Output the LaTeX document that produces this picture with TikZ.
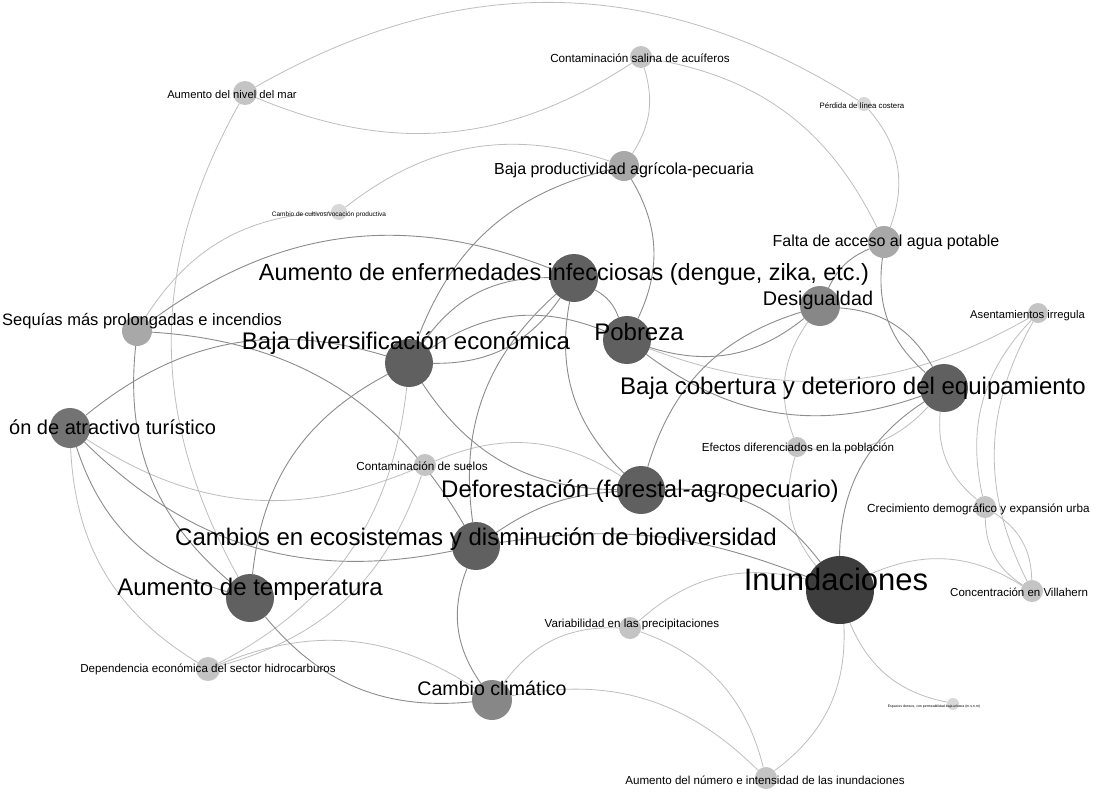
\documentclass[tikz,border=0pt]{standalone}
\usepackage{fontspec}
\setmainfont{Liberation Sans}
\usetikzlibrary{backgrounds}
\definecolor{NetHub}{HTML}{3E3E3E}
\definecolor{NetMajor}{HTML}{606060}
\definecolor{NetMid}{HTML}{737373}
\definecolor{NetSoft}{HTML}{878787}
\definecolor{NetLight}{HTML}{A8A8A8}
\definecolor{NetPale}{HTML}{C4C4C4}
\definecolor{NetFaint}{HTML}{D8D8D8}
\definecolor{NetLink}{HTML}{8C8C8C}
\definecolor{NetLinkLight}{HTML}{BEBEBE}

\begin{document}
\begin{tikzpicture}[x=1pt,y=-1pt,
    vert/.style={circle,inner sep=0pt,minimum size=#1},
    tag/.style={font=\fontsize{#1}{#1}\selectfont,inner sep=0pt,anchor=mid,yshift=-0.25*#1pt},
    link/.style={line width=0.9pt,NetLink},
    faint link/.style={line width=0.8pt,NetLinkLight}
  ]
  \useasboundingbox (0,0) rectangle (1095,796);
  \clip (0,0) rectangle (1095,796);

  % circles
  \node[vert=68,fill=NetHub] (inund) at (840,590) {};
  \node[vert=48,fill=NetMajor] (cobert) at (944,388) {};
  \node[vert=48,fill=NetMajor] (pobreza) at (627,340) {};
  \node[vert=48,fill=NetMajor] (enferm) at (574,278) {};
  \node[vert=48,fill=NetMajor] (diversif) at (409,363) {};
  \node[vert=48,fill=NetMajor] (defor) at (641,490) {};
  \node[vert=48,fill=NetMajor] (ecosis) at (476,546) {};
  \node[vert=48,fill=NetMajor] (temp) at (250,598) {};
  \node[vert=40,fill=NetMid] (turism) at (70,428) {};
  \node[vert=40,fill=NetSoft] (desig) at (820,306) {};
  \node[vert=40,fill=NetSoft] (climat) at (492,700) {};
  \node[vert=30,fill=NetLight] (sequia) at (137,331) {};
  \node[vert=32,fill=NetLight] (agua) at (884,242) {};
  \node[vert=30,fill=NetLight] (produc) at (624,166) {};
  \node[vert=22,fill=NetPale] (salina) at (641,57) {};
  \node[vert=24,fill=NetPale] (nivelmar) at (245,93) {};
  \node[vert=20,fill=NetPale] (asent) at (1038,313) {};
  \node[vert=20,fill=NetPale] (efectos) at (797,447) {};
  \node[vert=22,fill=NetPale] (crecim) at (985,507) {};
  \node[vert=22,fill=NetPale] (villa) at (1032,591) {};
  \node[vert=22,fill=NetPale] (suelos) at (425,465) {};
  \node[vert=24,fill=NetPale] (hidroc) at (208,669) {};
  \node[vert=22,fill=NetPale] (precip) at (630,628) {};
  \node[vert=22,fill=NetPale] (numinund) at (766,778) {};
  \node[vert=14,fill=NetFaint] (costera) at (864,104) {};
  \node[vert=16,fill=NetFaint] (cultivo) at (339,212) {};
  \node[vert=12,fill=NetFaint] (espacios) at (953,704) {};

  % labels
  \node[tag=31] (t-inund) at (836,580) {Inundaciones};
  \node[tag=24] (t-cobert) at (853,386) {Baja cobertura y deterioro del equipamiento};
  \node[tag=24] (t-pobreza) at (639,332) {Pobreza};
  \node[tag=23.4] (t-enferm) at (564,272) {Aumento de enfermedades infecciosas (dengue, zika, etc.)};
  \node[tag=24] (t-diversif) at (406,341) {Baja diversificación económica};
  \node[tag=24] (t-defor) at (640,489) {Deforestación (forestal-agropecuario)};
  \node[tag=24] (t-ecosis) at (476,537) {Cambios en ecosistemas y disminución de biodiversidad};
  \node[tag=24] (t-temp) at (250,587) {Aumento de temperatura};
  \node[tag=20,anchor=mid west] (t-turism) at (9,427) {ón de atractivo turístico};
  \node[tag=19.8] (t-desig) at (818,298) {Desigualdad};
  \node[tag=19.6] (t-climat) at (492,688) {Cambio climático};
  \node[tag=16.5,anchor=mid west] (t-sequia) at (2,319) {Sequías más prolongadas e incendios};
  \node[tag=16] (t-agua) at (886,240) {Falta de acceso al agua potable};
  \node[tag=16] (t-produc) at (624,168) {Baja productividad agrícola-pecuaria};
  \node[tag=11.7] (t-salina) at (640,57) {Contaminación salina de acuíferos};
  \node[tag=11.2] (t-nivelmar) at (232,93) {Aumento del nivel del mar};
  \node[tag=11.2,anchor=mid west] (t-asent) at (970,313) {Asentamientos irregula};
  \node[tag=11.6] (t-efectos) at (798,446) {Efectos diferenciados en la población};
  \node[tag=11.7,anchor=mid west] (t-crecim) at (867,507) {Crecimiento demográfico y expansión urba};
  \node[tag=11.5,anchor=mid west] (t-villa) at (950,591) {Concentración en Villahern};
  \node[tag=11.7] (t-suelos) at (422,465) {Contaminación de suelos};
  \node[tag=11.6] (t-hidroc) at (208,667) {Dependencia económica del sector hidrocarburos};
  \node[tag=11.6] (t-precip) at (632,622) {Variabilidad en las precipitaciones};
  \node[tag=11.6] (t-numinund) at (765,779) {Aumento del número e intensidad de las inundaciones};
  \node[tag=7.8] (t-costera) at (862,104) {Pérdida de línea costera};
  \node[tag=6.5] (t-cultivo) at (329,212) {Cambio de cultivos/vocación productiva};
  \node[tag=3.5] (t-espacios) at (934,704) {Espacios densos, con permeabilidad baja urbana (m.s.n.m)};

  % connectors
  \begin{scope}[on background layer]
    \fill[white] (0,0) rectangle (1095,796);
    \foreach \a/\b/\k in {nivelmar/costera/31, salina/nivelmar/28, temp/nivelmar/29,
        costera/agua/31, salina/agua/27, salina/produc/25, cultivo/produc/28,
        sequia/cultivo/28, suelos/turism/28, hidroc/turism/28, hidroc/climat/28,
        suelos/hidroc/28, diversif/hidroc/28, asent/pobreza/25, efectos/desig/28,
        crecim/cobert/28, cobert/efectos/28, crecim/asent/28, villa/asent/28,
        crecim/villa/28, villa/crecim/28, inund/efectos/28, precip/inund/28,
        inund/numinund/28, espacios/inund/28, inund/villa/28, suelos/defor/28,
        climat/precip/28, climat/numinund/28, precip/numinund/28}
      \draw[faint link] (\a) to[bend left=\k] (\b);
    \foreach \a/\b/\k in {diversif/produc/28, produc/pobreza/28, sequia/enferm/29,
        sequia/ecosis/28, temp/sequia/28, turism/diversif/28, temp/turism/28,
        ecosis/turism/28, temp/diversif/28, climat/temp/28, diversif/enferm/28,
        enferm/diversif/28, diversif/pobreza/28, defor/diversif/28, enferm/pobreza/20,
        defor/enferm/28, ecosis/enferm/28, desig/pobreza/28, cobert/pobreza/28,
        defor/desig/28, desig/cobert/28, desig/agua/20, cobert/agua/28,
        inund/cobert/28, defor/inund/28, ecosis/inund/15, ecosis/defor/15,
        climat/ecosis/28}
      \draw[link] (\a) to[bend left=\k] (\b);
  \end{scope}
\end{tikzpicture}
\end{document}
